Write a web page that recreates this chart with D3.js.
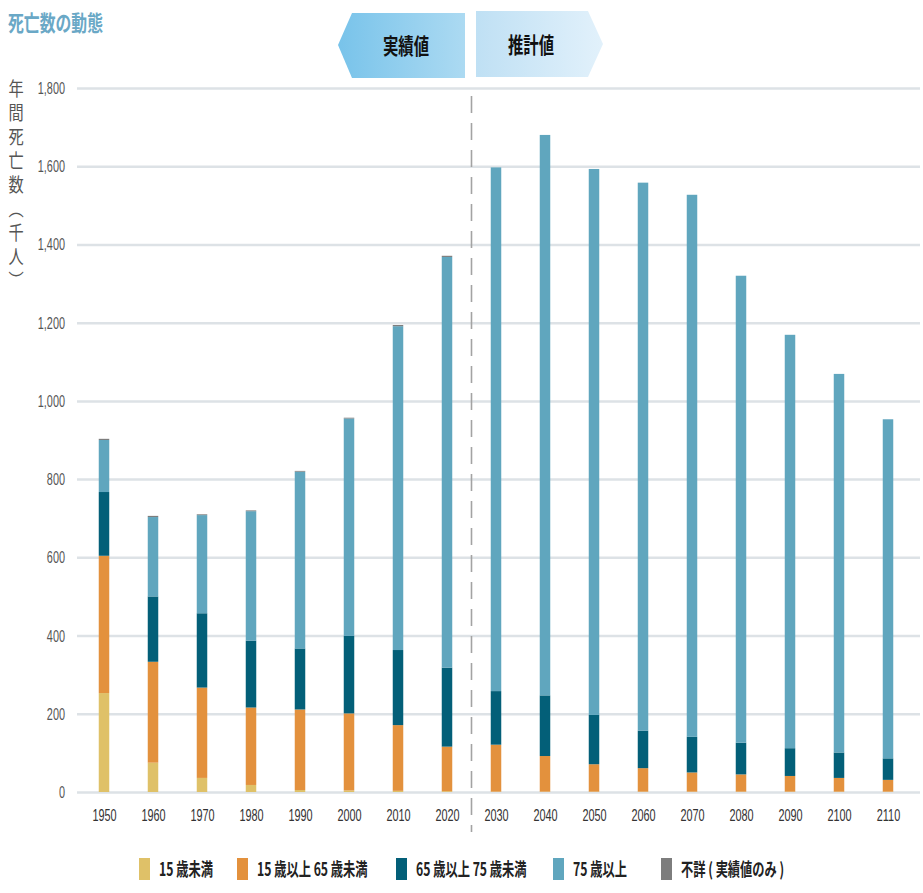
<!DOCTYPE html>
<html lang="ja">
<head>
<meta charset="utf-8">
<script src="https://cdn.jsdelivr.net/npm/d3@7"></script>
<style>
  html, body { margin: 0; padding: 0; background: #ffffff; }
  svg { display: block; }
  text { font-family: "Liberation Sans", "Noto Sans CJK JP", sans-serif; }
  .jp { font-family: "Noto Sans CJK JP", sans-serif; }
</style>
</head>
<body>
<svg id="chart" width="923" height="893"></svg>
<script>
// 年次（1950〜2020 は実績値、2030〜2110 は推計値）
const years = [1950, 1960, 1970, 1980, 1990, 2000, 2010, 2020,
               2030, 2040, 2050, 2060, 2070, 2080, 2090, 2100, 2110];
const actualYears = [1950, 1960, 1970, 1980, 1990, 2000, 2010, 2020];

// 年齢階級別の年間死亡数（千人）
const under15   = [253,  75,  36,  18,   5,   4,   3,   2,   1,    1,    1,    1,    1,    1,    1,   1,   1];
const age15to64 = [351, 258, 231, 198, 206, 197, 168, 114, 120,   91,   70,   60,   49,   44,   40,  35,  30];
const age65to74 = [163, 167, 190, 171, 156, 198, 192, 202, 137,  155,  126,   96,   91,   81,   71,  65,  55];
const age75plus = [133, 203, 251, 331, 452, 556, 828, 1050, 1339, 1433, 1396, 1401, 1386, 1194, 1057, 968, 867];
const unknown   = [  3,   3,   2,   2,   2,   2,   3,   3,   0,    0,    0,    0,    0,    0,    0,   0,   0];

const yTicks = [0, 200, 400, 600, 800, 1000, 1200, 1400, 1600, 1800];

const seriesKeys   = ["under15", "age15to64", "age65to74", "age75plus", "unknown"];
const seriesLabels = ["15 歳未満", "15 歳以上 65 歳未満", "65 歳以上 75 歳未満", "75 歳以上", "不詳 ( 実績値のみ )"];
const seriesColors = ["#dfc168", "#e3913d", "#035f78", "#60a6be", "#7d7d7d"];

const table = years.map((yr, i) => ({
  year: yr,
  under15: under15[i],
  age15to64: age15to64[i],
  age65to74: age65to74[i],
  age75plus: age75plus[i],
  unknown: unknown[i]
}));

const svg = d3.select("#chart");

const x = d3.scalePoint().domain(years).range([104, 888]);
const y = d3.scaleLinear().domain([0, 1800]).range([792, 88]);
const barW = 10.5;
const condense = 0.64;

// 横方向に詰めたテキストを描くための補助
function squeezed(parent, px, py, str, sx) {
  const g = parent.append("g").attr("transform", `translate(${px},${py})`);
  return g.append("text").attr("transform", `scale(${sx},1)`).text(str);
}

// タイトル
squeezed(svg, 8, 31, "死亡数の動態", 0.72)
  .attr("class", "jp")
  .attr("font-size", 22)
  .attr("font-weight", 700)
  .attr("fill", "#6aa8c6");

// 実績値／推計値 の見出し
const defs = svg.append("defs");
const gL = defs.append("linearGradient").attr("id", "gradActual");
gL.append("stop").attr("offset", "0%").attr("stop-color", "#78c3ea");
gL.append("stop").attr("offset", "100%").attr("stop-color", "#acdaf2");
const gR = defs.append("linearGradient").attr("id", "gradProj");
gR.append("stop").attr("offset", "0%").attr("stop-color", "#bfe0f4");
gR.append("stop").attr("offset", "100%").attr("stop-color", "#e2f1fb");

svg.append("polygon")
  .attr("points", "338,45 352,13 465,13 465,78 352,78")
  .attr("fill", "url(#gradActual)");
svg.append("polygon")
  .attr("points", "476,11 588,11 603,44 588,77 476,77")
  .attr("fill", "url(#gradProj)");

squeezed(svg, 406, 54, "実績値", 0.7)
  .attr("class", "jp").attr("font-size", 22).attr("font-weight", 700)
  .attr("text-anchor", "middle").attr("fill", "#111");
squeezed(svg, 531, 53, "推計値", 0.7)
  .attr("class", "jp").attr("font-size", 22).attr("font-weight", 700)
  .attr("text-anchor", "middle").attr("fill", "#111");

// 目盛り線
const grid = svg.append("g")
  .attr("transform", "translate(77,0)")
  .call(d3.axisRight(y).tickValues(yTicks).tickSize(843).tickFormat(""));
grid.select(".domain").remove();
grid.selectAll("line").attr("stroke", "#dde2e6").attr("stroke-width", 2.5);

// 縦軸の目盛りラベル
const yAxis = svg.append("g")
  .attr("transform", "translate(65,0)")
  .call(d3.axisLeft(y).tickValues(yTicks).tickSize(0).tickPadding(0).tickFormat(d3.format(",")));
yAxis.select(".domain").remove();
yAxis.selectAll("text")
  .attr("transform", `scale(${condense},1)`)
  .attr("font-size", 17)
  .attr("fill", "#555")
  .attr("font-family", "Liberation Sans, sans-serif");

// 縦軸タイトル（縦書き）
svg.append("g")
  .attr("transform", "translate(16,79) scale(0.8,1)")
  .append("text")
  .attr("class", "jp")
  .attr("x", 0)
  .attr("y", 0)
  .attr("font-size", 19)
  .attr("font-weight", 400)
  .attr("fill", "#555")
  .attr("letter-spacing", 5)
  .style("writing-mode", "vertical-rl")
  .text("年間死亡数（千人）");

// 積み上げ棒
const stacked = d3.stack().keys(seriesKeys)(table);
const color = d3.scaleOrdinal().domain(seriesKeys).range(seriesColors);

svg.append("g")
  .selectAll("g")
  .data(stacked)
  .join("g")
  .attr("fill", d => color(d.key))
  .selectAll("rect")
  .data(d => d.filter(s => s[1] - s[0] > 0))
  .join("rect")
  .attr("x", d => x(d.data.year) - barW / 2)
  .attr("width", barW)
  .attr("y", d => y(d[1]))
  .attr("height", d => y(d[0]) - y(d[1]));

// 実績値と推計値の境界線
const lastActual = actualYears[actualYears.length - 1];
const boundaryX = (x(lastActual) + x(years[actualYears.length])) / 2;
svg.append("line")
  .attr("x1", boundaryX).attr("x2", boundaryX)
  .attr("y1", 96).attr("y2", 832)
  .attr("stroke", "#a3a3a3")
  .attr("stroke-width", 1.6)
  .attr("stroke-dasharray", "17 10");

// 横軸ラベル
const xAxis = svg.append("g")
  .attr("transform", "translate(0,792)")
  .call(d3.axisBottom(x).tickSize(0).tickPadding(17));
xAxis.select(".domain").remove();
xAxis.selectAll("text")
  .attr("transform", `scale(${condense},1)`)
  .attr("font-size", 17)
  .attr("fill", "#333")
  .attr("font-family", "Liberation Sans, sans-serif");

// 凡例
const legendX = [139, 237, 396, 553, 661];
const legend = svg.append("g");
seriesKeys.forEach((k, i) => {
  legend.append("rect")
    .attr("x", legendX[i]).attr("y", 858)
    .attr("width", 11).attr("height", 22)
    .attr("fill", seriesColors[i]);
  squeezed(legend, legendX[i] + 20, 876, seriesLabels[i], 0.68)
    .attr("class", "jp")
    .attr("font-size", 18)
    .attr("font-weight", 700)
    .attr("fill", "#222");
});
</script>
</body>
</html>
